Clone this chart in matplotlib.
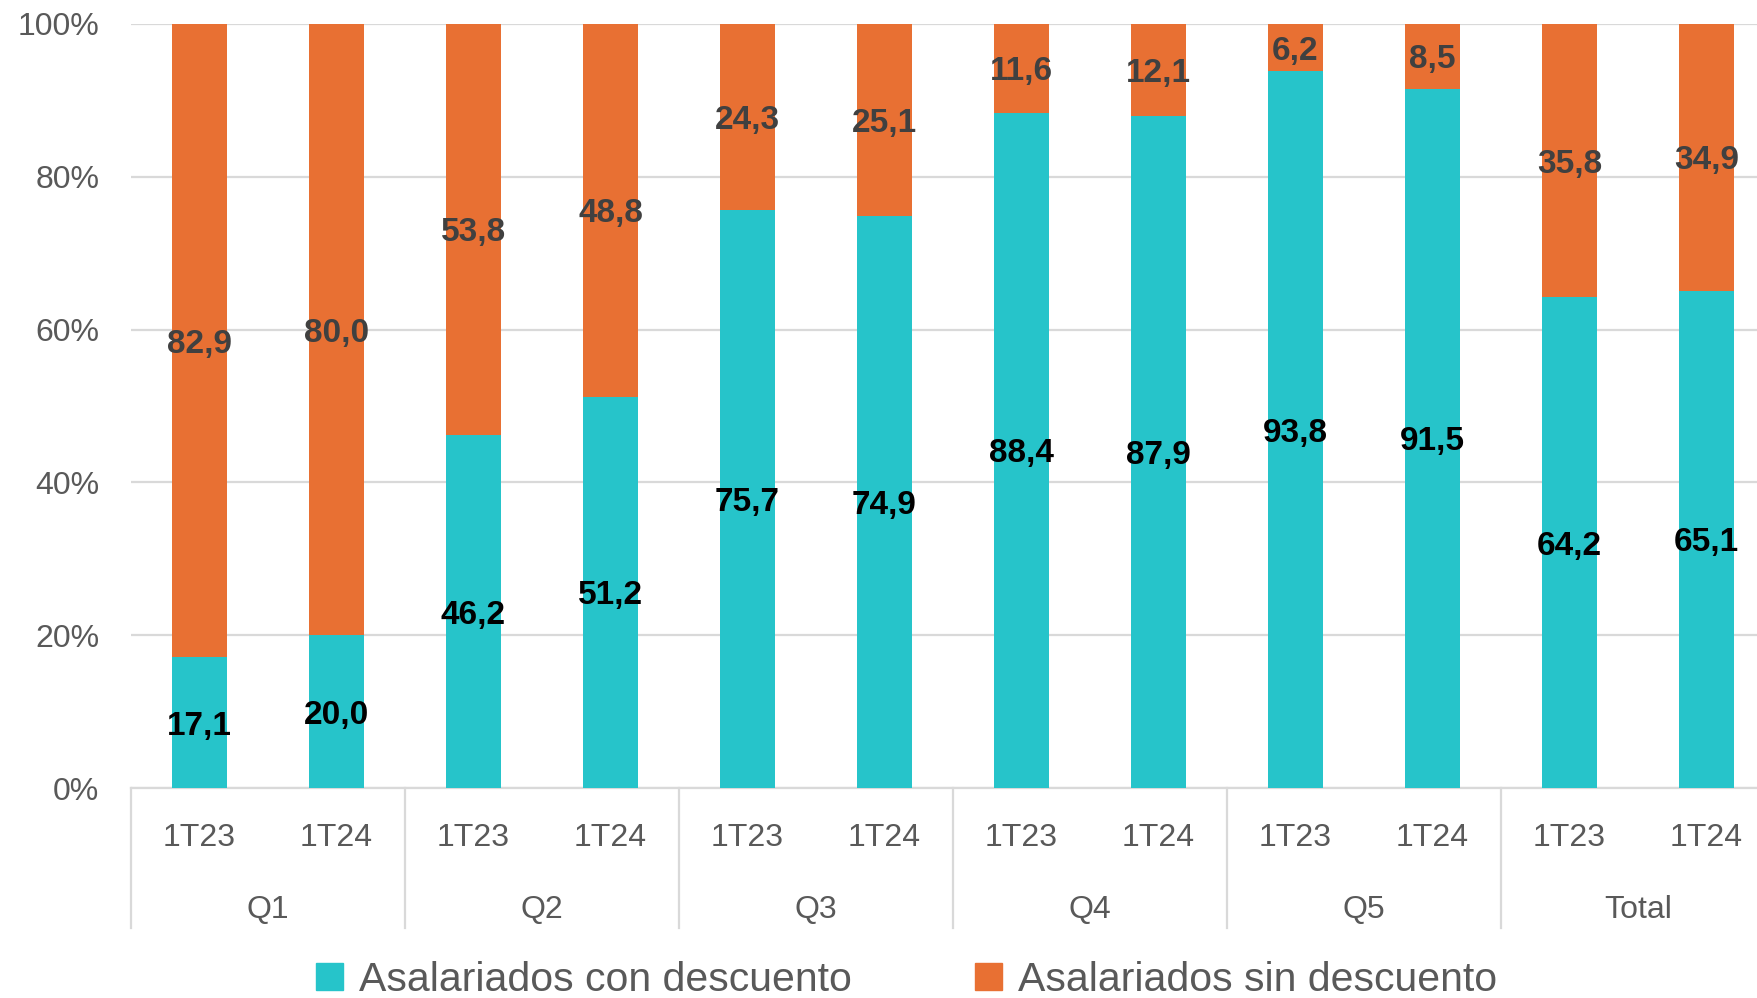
import matplotlib
matplotlib.use("Agg")
import matplotlib.pyplot as plt
from matplotlib.patches import Patch
import matplotlib.transforms as mtransforms
from matplotlib import font_manager

groups = ["Q1", "Q2", "Q3", "Q4", "Q5", "Total"]
periods = ["1T23", "1T24"]
con_descuento = [17.1, 20.0, 46.2, 51.2, 75.7, 74.9, 88.4, 87.9, 93.8, 91.5, 64.2, 65.1]
sin_descuento = [82.9, 80.0, 53.8, 48.8, 24.3, 25.1, 11.6, 12.1, 6.2, 8.5, 35.8, 34.9]
series_names = ["Asalariados con descuento", "Asalariados sin descuento"]
yticks = [0, 20, 40, 60, 80, 100]

teal = "#26C4CA"
orange = "#E87033"

names = {f.name for f in font_manager.fontManager.ttflist}
narrow = "Liberation Sans Narrow" if "Liberation Sans Narrow" in names else "Liberation Sans"

fig = plt.figure(figsize=(17.57, 9.98), dpi=100)
ax = fig.add_axes([0.0746, 0.2104, 0.9254, 0.7656])

n = len(con_descuento)
x = list(range(n))
ax.bar(x, con_descuento, width=0.4, color=teal, zorder=3)
ax.bar(x, sin_descuento, width=0.4, bottom=con_descuento, color=orange, zorder=3)

for xi, c, s in zip(x, con_descuento, sin_descuento):
    ax.text(xi, c / 2, f"{c:.1f}".replace(".", ","), ha="center", va="center_baseline",
            fontsize=24, fontweight="bold", color="black", family="Liberation Sans", zorder=4)
    ax.text(xi, c + s / 2, f"{s:.1f}".replace(".", ","), ha="center", va="center_baseline",
            fontsize=24, fontweight="bold", color="#404040", family="Liberation Sans", zorder=4)

ax.set_ylim(0, 100)
ax.set_xlim(-0.5, 11.37)
ax.set_yticks(yticks)
ax.set_yticklabels([f"{t}%" for t in yticks], fontsize=23, color="#595959", family="Liberation Sans")
ax.tick_params(axis="y", length=0, pad=23)
ax.set_xticks([])
ax.grid(axis="y", color="#D9D9D9", linewidth=1.6, zorder=0)
for sp in ["top", "right", "left"]:
    ax.spines[sp].set_visible(False)
ax.spines["bottom"].set_color("#D9D9D9")
ax.spines["bottom"].set_linewidth(1.6)

trans = mtransforms.blended_transform_factory(ax.transData, ax.transAxes)
for i, xi in enumerate(x):
    ax.text(xi, -0.065, periods[i % 2], transform=trans, ha="center", va="center",
            fontsize=23, color="#595959", family=narrow)
for g, name in enumerate(groups):
    ax.text(2 * g + 0.5, -0.159, name, transform=trans, ha="center", va="center",
            fontsize=23, color="#595959", family=narrow)
for g in range(len(groups)):
    ax.plot([2 * g - 0.5, 2 * g - 0.5], [0, -0.183], transform=trans, color="#D9D9D9",
            linewidth=1.6, clip_on=False)

handles = [Patch(color=teal), Patch(color=orange)]
fig.legend(handles, series_names, loc="center", bbox_to_anchor=(0.516, 0.018), ncol=2,
           frameon=False, prop={"family": narrow, "size": 29.5}, handlelength=0.65,
           handleheight=0.65, handletextpad=0.4, columnspacing=3.0, labelcolor="#595959")

fig.savefig("out.png", dpi=100)
